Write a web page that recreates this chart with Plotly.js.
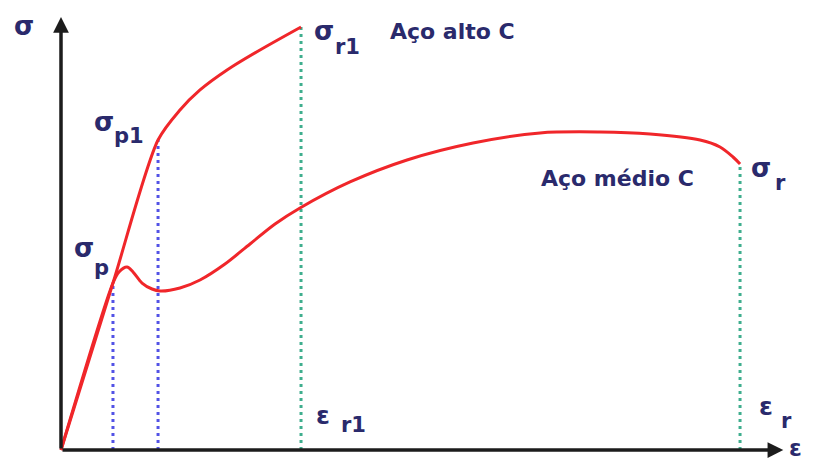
<!DOCTYPE html>
<html>
<head>
<meta charset="utf-8">
<script src="https://cdn.plot.ly/plotly-3.0.1.min.js"></script>
<style>
  html, body { margin: 0; padding: 0; background: #ffffff; }
  #chart { width: 815px; height: 460px; }
</style>
</head>
<body>
<div id="chart"></div>
<script>
// Stress–strain curves (arbitrary units): high-carbon and medium-carbon steel
const strainHigh = [0, 7.08, 13.22, 16.21, 18.94, 22.62, 27.11, 32.70];
const stressHigh = [0, 37.95, 70.45, 77.27, 81.82, 86.36, 90.91, 96.14];

const strainMed = [0, 7.08, 7.90, 8.99, 9.81, 11.04, 12.40, 13.49, 16.21, 18.94, 22.34,
                   25.75, 29.16, 32.56, 39.37, 47.14, 56.13, 65.26, 73.43, 80.25, 87.06,
                   89.78, 91.55, 92.51];
const stressMed = [0, 37.95, 40.45, 41.59, 40.45, 37.95, 36.59, 36.14, 36.82, 38.64, 42.27,
                   46.82, 51.36, 55.00, 60.91, 65.91, 69.77, 72.05, 72.27, 71.82, 70.45,
                   68.86, 66.59, 65.00];

// Characteristic points: proportional limits and rupture points
const epsP = 7.08,  sigP = 37.95;   // σp  (medium C)
const epsP1 = 13.22, sigP1 = 70.45; // σp1 (high C)
const epsR1 = 32.70, sigR1 = 96.14; // σr1 / εr1 (high C)
const epsR = 92.51,  sigR = 65.00;  // σr / εr (medium C)

const axisEnd = 98.4;

const navy = '#2a2a6c';
const red = '#f0262a';
const blueDot = '#5252e6';
const greenDot = '#3fae8e';
const font = 'DejaVu Sans, Verdana, sans-serif';

function guide(x, y, color) {
  return {
    x: [x, x], y: [0, y], mode: 'lines', hoverinfo: 'skip',
    line: { color: color, width: 3, dash: '3px,4px' }
  };
}

const traces = [
  guide(epsP, sigP, blueDot),
  guide(epsP1, sigP1, blueDot),
  guide(epsR1, sigR1, greenDot),
  guide(epsR, sigR, greenDot),
  {
    x: strainMed, y: stressMed, mode: 'lines', name: 'Aço médio C',
    line: { color: red, width: 3, shape: 'spline', smoothing: 0.9 }
  },
  {
    x: strainHigh, y: stressHigh, mode: 'lines', name: 'Aço alto C',
    line: { color: red, width: 3, shape: 'spline', smoothing: 0.8 }
  }
];

function label(text, x, y, size) {
  return {
    text: '<b>' + text + '</b>', x: x, y: y, xref: 'x', yref: 'y', showarrow: false,
    xanchor: 'center', yanchor: 'middle',
    font: { family: font, size: size, color: navy }
  };
}

function axisArrow(xTip, yTip) {
  return {
    x: xTip, y: yTip, ax: 0, ay: 0, xref: 'x', yref: 'y', axref: 'x', ayref: 'y',
    text: '', showarrow: true, arrowhead: 2, arrowsize: 0.9, arrowwidth: 3.5,
    arrowcolor: '#1c1c1c', standoff: 0, startstandoff: 0
  };
}

const annotations = [
  axisArrow(0, axisEnd),
  axisArrow(axisEnd, 0),
  label('σ', -5.0, 96.3, 26),
  label('ε', 100.1, 0.4, 23),
  label('σ', 5.86, 74.5, 26),
  label('p1', 9.2, 71.4, 21),
  label('σ', 3.13, 45.9, 26),
  label('p', 5.5, 41.4, 21),
  label('σ', 35.83, 95.2, 26),
  label('r1', 39.0, 91.6, 21),
  label('σ', 95.37, 64.0, 26),
  label('r', 97.96, 60.7, 21),
  label('ε', 35.69, 7.8, 25),
  label('r1', 39.9, 5.7, 21),
  label('ε', 96.05, 9.8, 25),
  label('r', 98.77, 6.6, 21),
  label('Aço alto C', 53.4, 95.2, 22),
  label('Aço médio C', 75.75, 61.6, 22)
];

const layout = {
  width: 815, height: 460,
  margin: { l: 0, r: 0, t: 0, b: 0 },
  paper_bgcolor: '#ffffff', plot_bgcolor: '#ffffff',
  showlegend: false,
  xaxis: { range: [-8.31, 102.72], visible: false, fixedrange: true },
  yaxis: { range: [-2.27, 102.27], visible: false, fixedrange: true },
  annotations: annotations
};

Plotly.newPlot('chart', traces, layout, { staticPlot: true, displayModeBar: false });
</script>
</body>
</html>
